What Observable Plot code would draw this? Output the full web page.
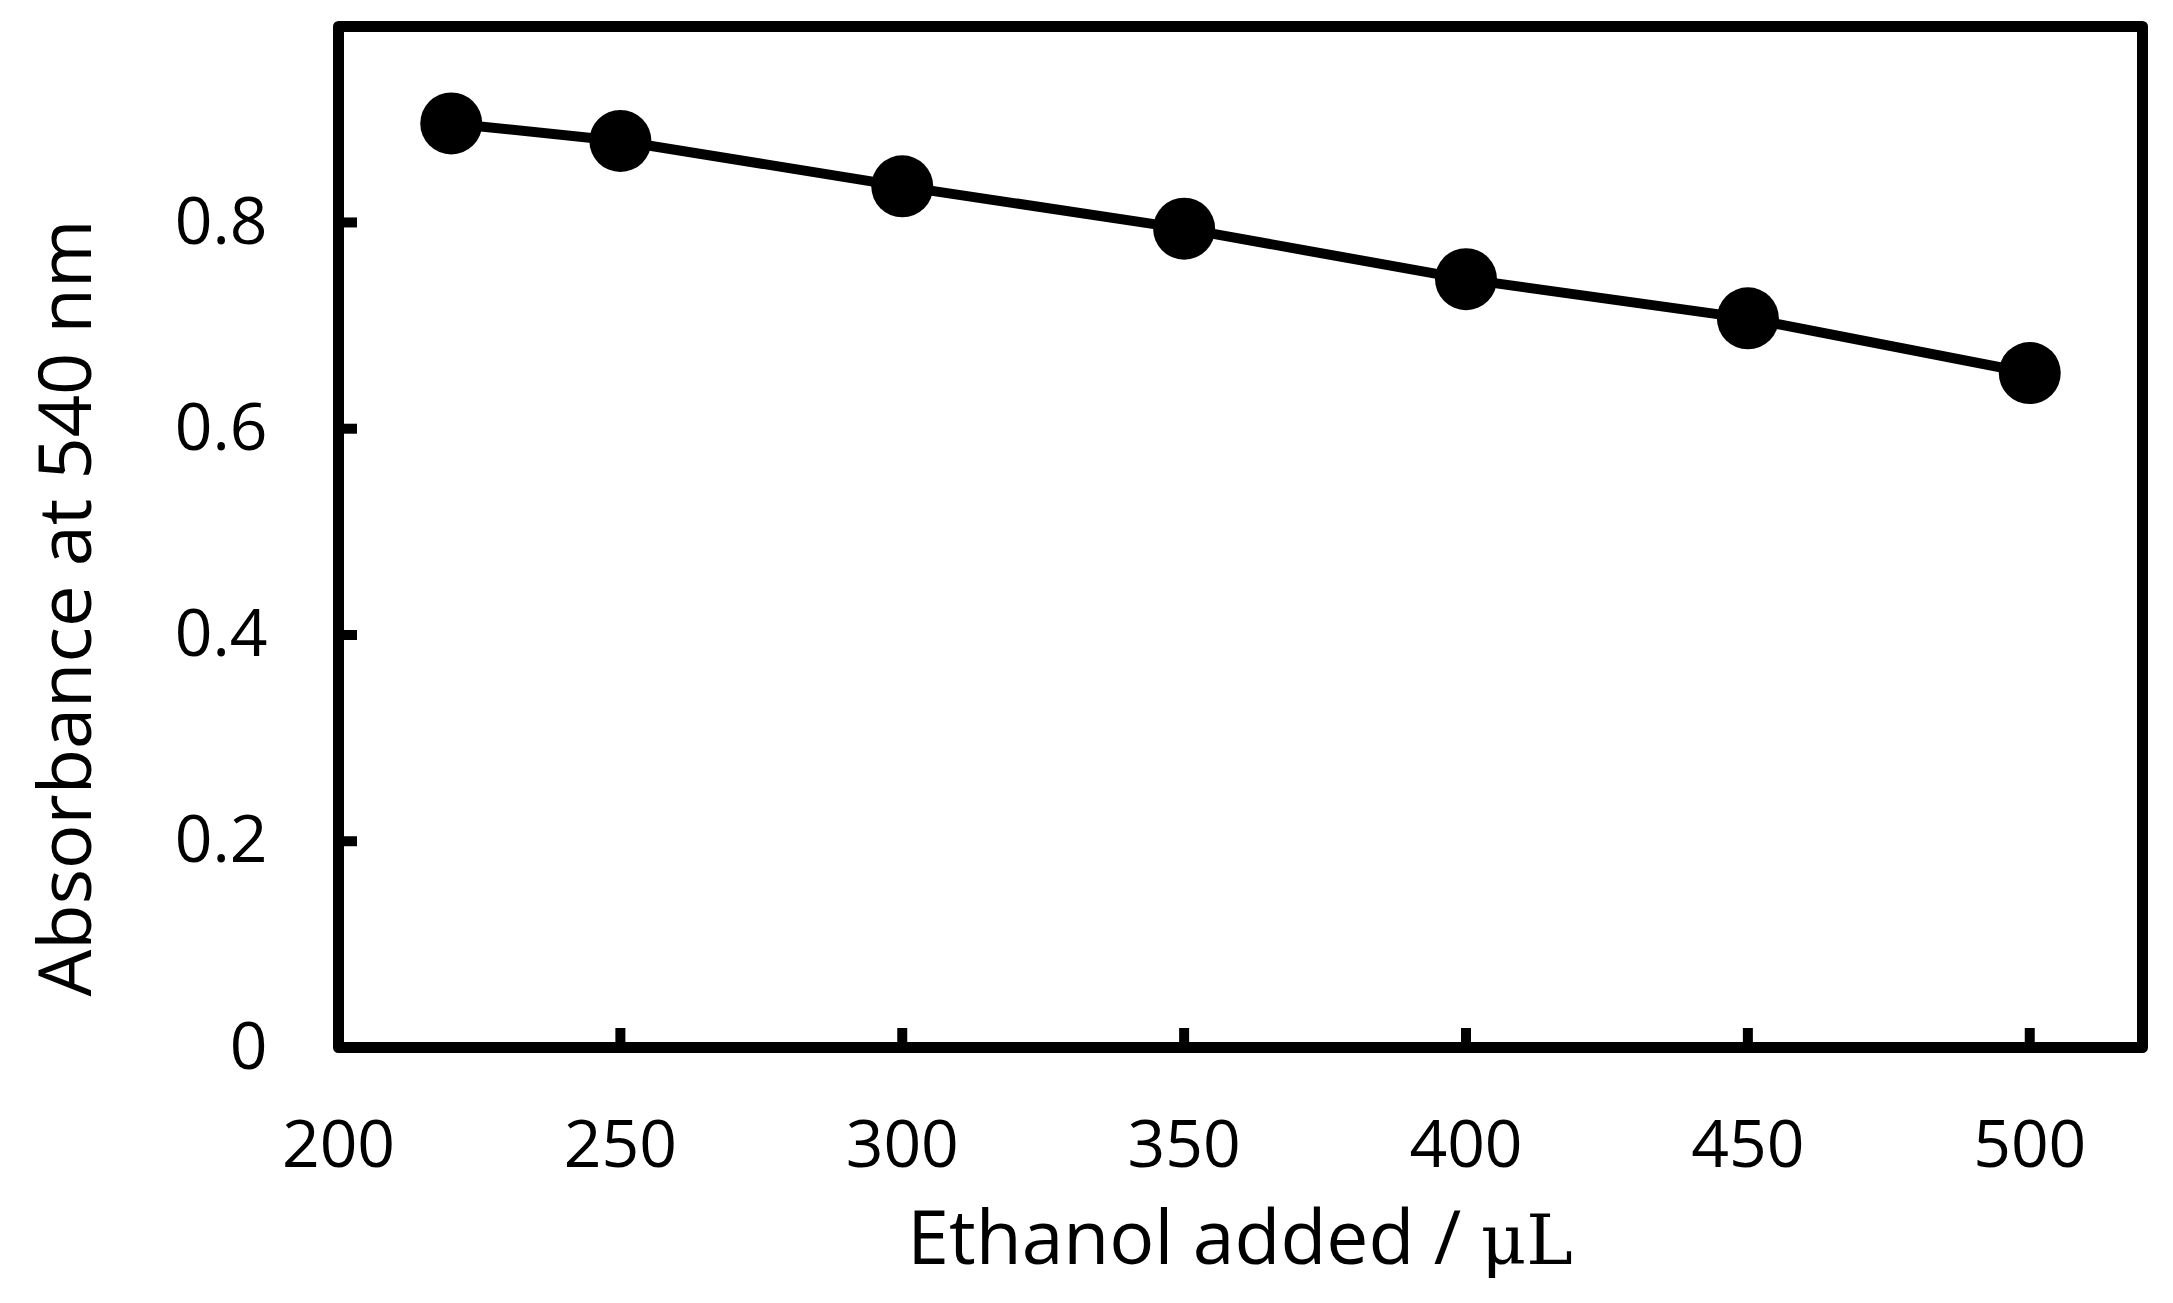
<!DOCTYPE html>
<html>
<head>
<meta charset="utf-8">
<script src="https://cdn.jsdelivr.net/npm/d3@7"></script>
<script src="https://cdn.jsdelivr.net/npm/@observablehq/plot@0.6"></script>
<style>
  html, body { margin: 0; padding: 0; background: #fff; }
  #chart svg { display: block; }
</style>
</head>
<body>
<div id="chart"></div>
<script>
// Data
const ethanol = [220, 250, 300, 350, 400, 450, 500];
const absorbance = [0.896, 0.879, 0.835, 0.794, 0.745, 0.707, 0.654];
const xTicks = [200, 250, 300, 350, 400, 450, 500];
const yTicks = [0, 0.2, 0.4, 0.6, 0.8];
const xTitle = "Ethanol added / ";
const xUnit = "μL";
const yTitle = "Absorbance at 540 nm";

const data = ethanol.map((x, i) => ({x, y: absorbance[i]}));
const font = "'Open Sans', 'Noto Sans', sans-serif";

const W = 2173, H = 1303;
const mL = 338, mR = 31, mT = 26, mB = 256;

const chart = Plot.plot({
  width: W,
  height: H,
  marginLeft: mL,
  marginRight: mR,
  marginTop: mT,
  marginBottom: mB,
  style: {fontFamily: font, background: "#fff", color: "#000", overflow: "visible"},
  x: {domain: [200, 520], label: null},
  y: {domain: [0, 0.99], label: null},
  marks: [
    Plot.axisX({ticks: xTicks, tickSize: -19, tickPadding: 92, strokeWidth: 10,
      fontSize: 66, tickFormat: d => String(d), label: null}),
    Plot.axisY({ticks: yTicks, tickSize: -19, tickPadding: 90, strokeWidth: 10,
      fontSize: 66, tickFormat: d => d === 0 ? "0" : d.toFixed(1), label: null}),
    Plot.line(data, {x: "x", y: "y", stroke: "#000", strokeWidth: 10}),
    Plot.dot(data, {x: "x", y: "y", r: 31, fill: "#000", stroke: "none"}),
    Plot.frame({stroke: "#000", strokeWidth: 11, strokeLinejoin: "round"})
  ]
});

document.getElementById("chart").appendChild(chart);

// Axis titles
const svg = d3.select(chart);
const xt = svg.append("text")
  .attr("x", (mL + (W - mR)) / 2)
  .attr("y", 1264)
  .attr("text-anchor", "middle")
  .attr("font-family", font)
  .attr("font-size", 75)
  .attr("fill", "#000");
xt.append("tspan").text(xTitle);
xt.append("tspan").attr("font-family", "'DejaVu Serif', 'Liberation Serif', serif").attr("font-size", 70).text(xUnit);

svg.append("text")
  .attr("transform", "translate(91,608) rotate(-90)")
  .attr("text-anchor", "middle")
  .attr("font-family", font)
  .attr("font-size", 74)
  .attr("fill", "#000")
  .text(yTitle);
</script>
</body>
</html>
